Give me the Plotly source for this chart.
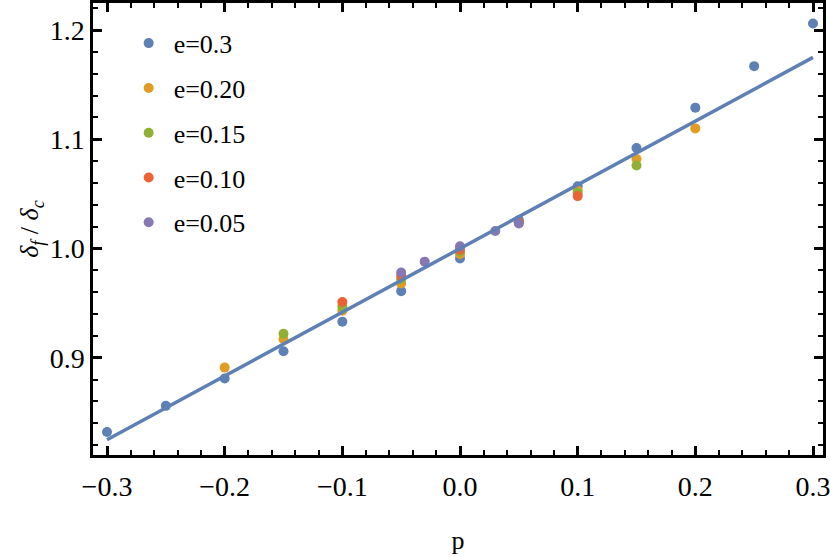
import plotly.graph_objects as go

# delta_f / delta_c against p, one pair of lists for each e
p_e30 = [-0.3, -0.25, -0.2, -0.15, -0.1, -0.05, 0.0, 0.05, 0.1, 0.15, 0.2, 0.25, 0.3]
r_e30 = [0.832, 0.856, 0.881, 0.906, 0.933, 0.961, 0.991, 1.026, 1.057, 1.092, 1.129, 1.167, 1.206]
p_e20 = [-0.2, -0.15, -0.1, -0.05, 0.0, 0.05, 0.1, 0.15, 0.2]
r_e20 = [0.891, 0.917, 0.943, 0.968, 0.995, 1.024, 1.053, 1.082, 1.110]
p_e15 = [-0.15, -0.1, -0.05, 0.0, 0.05, 0.1, 0.15]
r_e15 = [0.922, 0.947, 0.972, 0.997, 1.024, 1.051, 1.076]
p_e10 = [-0.1, -0.05, 0.0, 0.05, 0.1]
r_e10 = [0.951, 0.975, 0.999, 1.024, 1.048]
p_e05 = [-0.05, -0.03, 0.0, 0.03, 0.05]
r_e05 = [0.978, 0.988, 1.002, 1.016, 1.023]

# straight fit line
fit_p = [-0.3, 0.3]
fit_r = [0.825, 1.175]

series = [
    ("e=0.3", p_e30, r_e30, "#5E81B5"),
    ("e=0.20", p_e20, r_e20, "#E19C24"),
    ("e=0.15", p_e15, r_e15, "#8FB032"),
    ("e=0.10", p_e10, r_e10, "#EB6235"),
    ("e=0.05", p_e05, r_e05, "#8778B3"),
]

FONT = "Liberation Serif, Times New Roman, serif"

fig = go.Figure()
for i, (name, px_, py_, color) in enumerate(series):
    fig.add_trace(go.Scatter(
        x=px_, y=py_, mode="markers", name=name, legendgroup=str(i),
        marker=dict(size=10, color=color),
    ))

fig.add_trace(go.Scatter(
    x=fit_p, y=fit_r, mode="lines", showlegend=False,
    line=dict(color="#5E81B5", width=3.5),
))

axis_common = dict(
    showline=True, linecolor="black", linewidth=2.5, mirror="ticks",
    ticks="inside", ticklen=9, tickwidth=2.5, tickcolor="black",
    showgrid=False, zeroline=False, tickformat=".1f", automargin=False,
    ticklabeloverflow="allow",
    tickfont=dict(family=FONT, size=28, color="black"),
    minor=dict(ticks="inside", ticklen=5, tickwidth=2, tickcolor="black", dtick=0.02, showgrid=False),
)

fig.update_xaxes(
    range=[-0.3119, 0.3085], tickvals=[-0.3, -0.2, -0.1, 0.0, 0.1, 0.2, 0.3],
    title=dict(text="p", font=dict(family=FONT, size=26, color="black"), standoff=30),
    ticklabelstandoff=5,
    **axis_common,
)
fig.update_yaxes(
    range=[0.811, 1.2248], tickvals=[0.9, 1.0, 1.1, 1.2],
    title=dict(text="<i>δ<sub>f</sub></i> / <i>δ<sub>c</sub></i>",
               font=dict(family=FONT, size=26, color="black"), standoff=4),
    **axis_common,
)

fig.update_layout(
    width=830, height=557,
    margin=dict(l=93, r=7, t=3, b=102),
    paper_bgcolor="white", plot_bgcolor="white",
    font=dict(family=FONT, size=26, color="black"),
    legend=dict(
        x=0.042, y=0.963, xanchor="left", yanchor="top",
        traceorder="grouped", tracegroupgap=8, itemwidth=40,
        bgcolor="rgba(0,0,0,0)", font=dict(family=FONT, size=26, color="black"),
    ),
)

# the page body has an 8px default margin; drop it so the figure sits at the corner
fig.write_html("out.html", config={"displayModeBar": False},
               post_script="document.body.style.margin='0';")
